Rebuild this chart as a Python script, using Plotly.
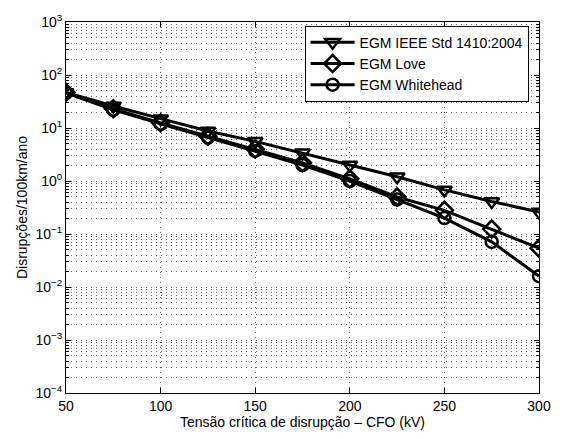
import plotly.graph_objects as go

cfo_kv = [50, 75, 100, 125, 150, 175, 200, 225, 250, 275, 300]
egm_ieee = [47, 26, 15, 8.8, 5.6, 3.4, 2.0, 1.2, 0.68, 0.41, 0.26]
egm_love = [47, 23, 12.5, 7.0, 4.0, 2.2, 1.1, 0.5, 0.28, 0.124, 0.054]
egm_whitehead = [46, 22, 12, 6.6, 3.7, 2.0, 1.0, 0.45, 0.2, 0.071, 0.016]

series_names = ["EGM IEEE Std 1410:2004", "EGM Love", "EGM Whitehead"]
x_ticks = [50, 100, 150, 200, 250, 300]
y_exponents = [-4, -3, -2, -1, 0, 1, 2, 3]

FONT = "Liberation Sans, Arial, Helvetica, sans-serif"

fig = go.Figure()
symbols = ["triangle-down-open", "diamond-open", "circle-open"]
sizes = [13, 13, 12]
for name, vals, sym, sz in zip(series_names, [egm_ieee, egm_love, egm_whitehead], symbols, sizes):
    fig.add_trace(go.Scatter(
        x=cfo_kv, y=vals, name=name, mode="lines+markers",
        line=dict(color="black", width=3),
        marker=dict(symbol=sym, size=sz, color="black", line=dict(width=2.5, color="black")),
    ))

y_tickvals = [10.0 ** e for e in y_exponents]
y_ticktext = ["10<sup>%s</sup>" % (str(e).replace("-", "\u2212")) for e in y_exponents]
minor_vals = [m * 10.0 ** e for e in y_exponents[:-1] for m in range(2, 10)]

grid_col = "rgba(0,0,0,0.6)"
grid_dash = "1px,4px"

fig.update_layout(
    width=563, height=439,
    margin=dict(l=66, r=21, t=19, b=46),
    paper_bgcolor="white", plot_bgcolor="white",
    font=dict(family=FONT, size=14, color="black"),
    showlegend=True,
    legend=dict(
        x=0.978, y=0.99, xanchor="right", yanchor="top",
        bgcolor="white", bordercolor="black", borderwidth=1,
        font=dict(family=FONT, size=14, color="black"),
        itemwidth=44, tracegroupgap=0,
    ),
    xaxis=dict(
        range=[50, 300], tickvals=x_ticks, ticktext=[str(v) for v in x_ticks],
        showline=True, linecolor="black", linewidth=1, mirror="ticks",
        ticks="inside", ticklen=5, tickcolor="black",
        showgrid=True, gridcolor=grid_col, griddash=grid_dash, gridwidth=1,
        zeroline=False,
        title=dict(text="Tensão crítica de disrupção – CFO (kV)", standoff=2,
                   font=dict(family=FONT, size=14)),
        tickfont=dict(family=FONT, size=14),
    ),
    yaxis=dict(
        type="log", range=[-4, 3],
        tickvals=y_tickvals, ticktext=y_ticktext,
        showline=True, linecolor="black", linewidth=1, mirror="ticks",
        ticks="inside", ticklen=5, tickcolor="black",
        showgrid=True, gridcolor=grid_col, griddash=grid_dash, gridwidth=1,
        minor=dict(tickvals=minor_vals, ticks="inside", ticklen=3, tickcolor="black",
                   showgrid=True, gridcolor=grid_col, griddash=grid_dash, gridwidth=1),
        zeroline=False,
        title=dict(text="Disrupções/100km/ano", standoff=4,
                   font=dict(family=FONT, size=14)),
        tickfont=dict(family=FONT, size=14),
    ),
)

fig.write_html("out.html")
